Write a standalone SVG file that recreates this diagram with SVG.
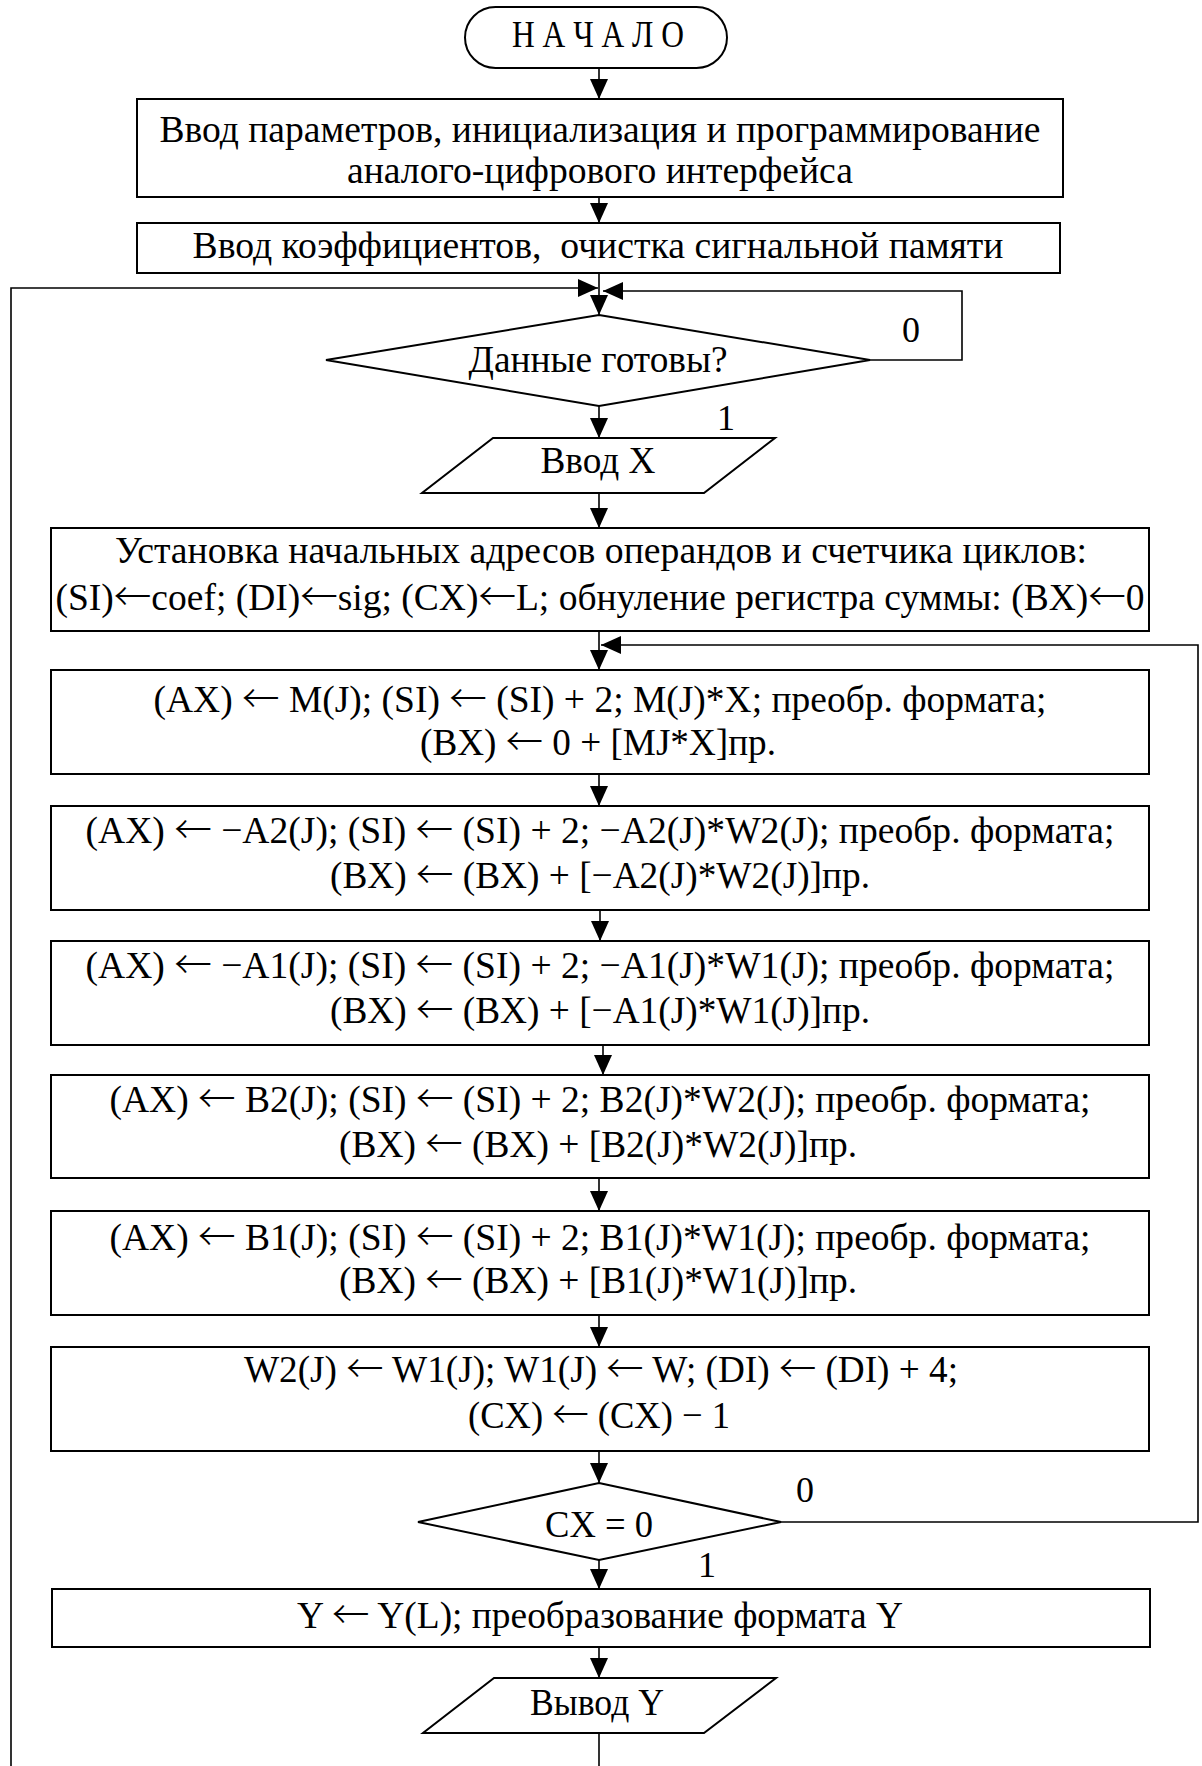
<svg xmlns="http://www.w3.org/2000/svg" width="1202" height="1766" viewBox="0 0 1202 1766">
  <style>
    .shape { fill: #ffffff; stroke: #000000; stroke-width: 2; }
    .wire { fill: none; stroke: #000000; stroke-width: 1.6; }
    .t { font-family: "Liberation Serif", "Times New Roman", serif; font-size: 38px; fill: #000000; text-anchor: middle; }
    .lbl { font-family: "Liberation Serif", "Times New Roman", serif; font-size: 36px; fill: #000000; text-anchor: middle; }
    .ar { font-family: "Noto Sans CJK JP", "DejaVu Sans", sans-serif; font-weight: 300; }
  </style>
  <defs>
    <marker id="arrow" viewBox="0 0 20 18" refX="20" refY="9" markerWidth="20" markerHeight="18" markerUnits="userSpaceOnUse" orient="auto">
      <path d="M0,0 L20,9 L0,18 z" fill="#000000"/>
    </marker>
  </defs>

  <rect width="1202" height="1766" fill="#ffffff"/>

  <!-- connectors -->
  <g id="connectors">
    <line class="wire" x1="599" y1="68" x2="599" y2="99" marker-end="url(#arrow)"/>
    <line class="wire" x1="599" y1="197" x2="599" y2="223" marker-end="url(#arrow)"/>
    <line class="wire" x1="599" y1="273" x2="599" y2="315" marker-end="url(#arrow)"/>
    <polyline class="wire" points="11,1766 11,288 598,288" marker-end="url(#arrow)"/>
    <polyline class="wire" points="870,360 962,360 962,291 603,291" marker-end="url(#arrow)"/>
    <line class="wire" x1="599" y1="406" x2="599" y2="438" marker-end="url(#arrow)"/>
    <line class="wire" x1="599" y1="493" x2="599" y2="528" marker-end="url(#arrow)"/>
    <line class="wire" x1="599" y1="631" x2="599" y2="670" marker-end="url(#arrow)"/>
    <polyline class="wire" points="781,1522 1198,1522 1198,645 601,645" marker-end="url(#arrow)"/>
    <line class="wire" x1="599" y1="774" x2="599" y2="806" marker-end="url(#arrow)"/>
    <line class="wire" x1="600" y1="910" x2="600" y2="941" marker-end="url(#arrow)"/>
    <line class="wire" x1="603" y1="1045" x2="603" y2="1075" marker-end="url(#arrow)"/>
    <line class="wire" x1="599" y1="1178" x2="599" y2="1211" marker-end="url(#arrow)"/>
    <line class="wire" x1="599" y1="1315" x2="599" y2="1347" marker-end="url(#arrow)"/>
    <line class="wire" x1="599" y1="1451" x2="599" y2="1483" marker-end="url(#arrow)"/>
    <line class="wire" x1="599" y1="1560" x2="599" y2="1589" marker-end="url(#arrow)"/>
    <line class="wire" x1="599" y1="1647" x2="599" y2="1678" marker-end="url(#arrow)"/>
    <line class="wire" x1="599" y1="1733" x2="599" y2="1766"/>
    <text class="lbl" x="911" y="342">0</text>
    <text class="lbl" x="726" y="430">1</text>
    <text class="lbl" x="805" y="1502">0</text>
    <text class="lbl" x="707" y="1577">1</text>
  </g>

  <g id="start">
    <rect class="shape" x="465" y="7" width="262" height="61" rx="30.5" ry="30.5"/>
    <text class="t" x="598" y="47" font-size="33" textLength="172" lengthAdjust="spacingAndGlyphs">Н А Ч А Л О</text>
  </g>

  <g id="init">
    <rect class="shape" x="137" y="99" width="926" height="98"/>
    <text class="t" x="600" y="142" textLength="881" lengthAdjust="spacingAndGlyphs">Ввод параметров, инициализация и программирование</text>
    <text class="t" x="600" y="183" textLength="506" lengthAdjust="spacingAndGlyphs">аналого-цифрового интерфейса</text>
  </g>

  <g id="coefs">
    <rect class="shape" x="137" y="223" width="923" height="50"/>
    <text class="t" x="598" y="258" xml:space="preserve" textLength="811" lengthAdjust="spacingAndGlyphs">Ввод коэффициентов,  очистка сигнальной памяти</text>
  </g>

  <g id="ready">
    <polygon class="shape" points="599,315 870,360 599,406 326,360"/>
    <text class="t" x="598" y="372" textLength="259" lengthAdjust="spacingAndGlyphs">Данные готовы?</text>
  </g>

  <g id="inputX">
    <polygon class="shape" points="493,438 775,438 704,493 422,493"/>
    <text class="t" x="598" y="473" textLength="115" lengthAdjust="spacingAndGlyphs">Ввод X</text>
  </g>

  <g id="setup">
    <rect class="shape" x="51" y="528" width="1098" height="103"/>
    <text class="t" x="601" y="563" textLength="972" lengthAdjust="spacingAndGlyphs">Установка начальных адресов операндов и счетчика циклов:</text>
    <text class="t" x="600" y="610" textLength="1089" lengthAdjust="spacingAndGlyphs">(SI)<tspan class="ar">←</tspan>coef; (DI)<tspan class="ar">←</tspan>sig; (CX)<tspan class="ar">←</tspan>L; обнуление регистра суммы: (BX)<tspan class="ar">←</tspan>0</text>
  </g>

  <g id="stepM">
    <rect class="shape" x="51" y="670" width="1098" height="104"/>
    <text class="t" x="600" y="712" textLength="893" lengthAdjust="spacingAndGlyphs">(AX) <tspan class="ar">←</tspan> M(J); (SI) <tspan class="ar">←</tspan> (SI) + 2; M(J)*X; преобр. формата;</text>
    <text class="t" x="598" y="755" textLength="356" lengthAdjust="spacingAndGlyphs">(BX) <tspan class="ar">←</tspan> 0 + [MJ*X]пр.</text>
  </g>

  <g id="stepA2">
    <rect class="shape" x="51" y="806" width="1098" height="104"/>
    <text class="t" x="600" y="843" textLength="1029" lengthAdjust="spacingAndGlyphs">(AX) <tspan class="ar">←</tspan> −A2(J); (SI) <tspan class="ar">←</tspan> (SI) + 2; −A2(J)*W2(J); преобр. формата;</text>
    <text class="t" x="600" y="888" textLength="540" lengthAdjust="spacingAndGlyphs">(BX) <tspan class="ar">←</tspan> (BX) + [−A2(J)*W2(J)]пр.</text>
  </g>

  <g id="stepA1">
    <rect class="shape" x="51" y="941" width="1098" height="104"/>
    <text class="t" x="600" y="978" textLength="1029" lengthAdjust="spacingAndGlyphs">(AX) <tspan class="ar">←</tspan> −A1(J); (SI) <tspan class="ar">←</tspan> (SI) + 2; −A1(J)*W1(J); преобр. формата;</text>
    <text class="t" x="600" y="1023" textLength="540" lengthAdjust="spacingAndGlyphs">(BX) <tspan class="ar">←</tspan> (BX) + [−A1(J)*W1(J)]пр.</text>
  </g>

  <g id="stepB2">
    <rect class="shape" x="51" y="1075" width="1098" height="103"/>
    <text class="t" x="600" y="1112" textLength="981" lengthAdjust="spacingAndGlyphs">(AX) <tspan class="ar">←</tspan> B2(J); (SI) <tspan class="ar">←</tspan> (SI) + 2; B2(J)*W2(J); преобр. формата;</text>
    <text class="t" x="598" y="1157" textLength="518" lengthAdjust="spacingAndGlyphs">(BX) <tspan class="ar">←</tspan> (BX) + [B2(J)*W2(J)]пр.</text>
  </g>

  <g id="stepB1">
    <rect class="shape" x="51" y="1211" width="1098" height="104"/>
    <text class="t" x="600" y="1250" textLength="981" lengthAdjust="spacingAndGlyphs">(AX) <tspan class="ar">←</tspan> B1(J); (SI) <tspan class="ar">←</tspan> (SI) + 2; B1(J)*W1(J); преобр. формата;</text>
    <text class="t" x="598" y="1293" textLength="518" lengthAdjust="spacingAndGlyphs">(BX) <tspan class="ar">←</tspan> (BX) + [B1(J)*W1(J)]пр.</text>
  </g>

  <g id="shift">
    <rect class="shape" x="51" y="1347" width="1098" height="104"/>
    <text class="t" x="601" y="1382" textLength="714" lengthAdjust="spacingAndGlyphs">W2(J) <tspan class="ar">←</tspan> W1(J); W1(J) <tspan class="ar">←</tspan> W; (DI) <tspan class="ar">←</tspan> (DI) + 4;</text>
    <text class="t" x="599" y="1428" textLength="262" lengthAdjust="spacingAndGlyphs">(CX) <tspan class="ar">←</tspan> (CX) − 1</text>
  </g>

  <g id="count">
    <polygon class="shape" points="599,1483 781,1522 599,1560 418,1522"/>
    <text class="t" x="599" y="1537" textLength="108" lengthAdjust="spacingAndGlyphs">CX = 0</text>
  </g>

  <g id="result">
    <rect class="shape" x="52" y="1589" width="1098" height="58"/>
    <text class="t" x="600" y="1628" textLength="606" lengthAdjust="spacingAndGlyphs">Y <tspan class="ar">←</tspan> Y(L); преобразование формата Y</text>
  </g>

  <g id="outputY">
    <polygon class="shape" points="494,1678 776,1678 704,1733 423,1733"/>
    <text class="t" x="597" y="1715" textLength="134" lengthAdjust="spacingAndGlyphs">Вывод Y</text>
  </g>
</svg>
